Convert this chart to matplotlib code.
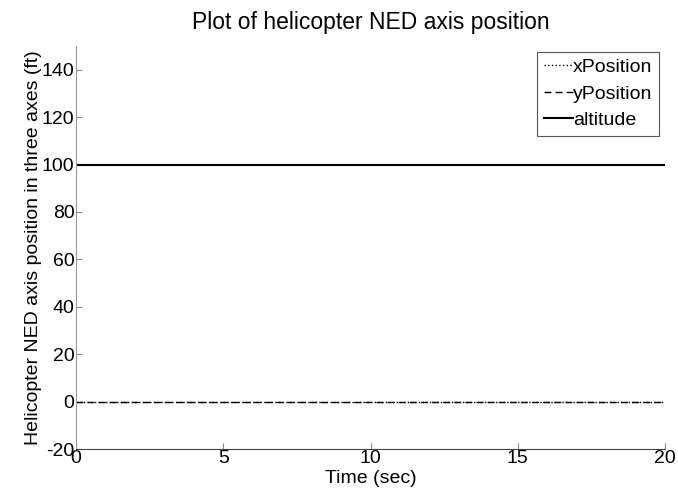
import numpy as np
import matplotlib
matplotlib.use("Agg")
import matplotlib.pyplot as plt

plt.rcParams["font.family"] = ["Liberation Sans", "DejaVu Sans"]
plt.rcParams["axes.unicode_minus"] = False

# simulation time and NED positions (ft)
time_sec = [0, 20]
x_position = [0, 0]
y_position = [0, 0]
altitude = [100, 100]

x_ticks = [0, 5, 10, 15, 20]
y_ticks = [-20, 0, 20, 40, 60, 80, 100, 120, 140]

fig = plt.figure(figsize=(6.78, 5.0), dpi=100)
ax = fig.add_axes([0.112, 0.102, 0.869, 0.806])

ax.plot(time_sec, x_position, color="black", linestyle=":", linewidth=1.0, label="xPosition")
ax.plot(time_sec, y_position, color="black", linestyle=(0, (5, 3)), linewidth=1.0, label="yPosition")
ax.plot(time_sec, altitude, color="black", linestyle="-", linewidth=1.5, label="altitude")

ax.set_xlim(0, 20)
ax.set_ylim(-20, 150)
ax.set_xticks(x_ticks)
ax.set_yticks(y_ticks)
ax.tick_params(direction="in", length=4, labelsize=14, color="#888888", pad=1)

for side in ["top", "right"]:
    ax.spines[side].set_visible(False)
ax.spines["left"].set_color("#999999")
ax.spines["bottom"].set_color("#444444")

ax.set_xlabel("Time (sec)", fontsize=14, labelpad=2)
ax.set_ylabel("Helicopter NED axis position in three axes (ft)", fontsize=14, labelpad=0)
ax.set_title("Plot of helicopter NED axis position", fontsize=16.5, pad=12)

leg = ax.legend(loc="upper right", fontsize=14, handlelength=1.5, handletextpad=0.0,
                borderpad=0.35, labelspacing=0.45, fancybox=False, framealpha=1,
                borderaxespad=0.3)
leg.get_frame().set_edgecolor("#555555")
leg.get_frame().set_linewidth(0.8)

fig.savefig("out.png", dpi=100, facecolor="white")
